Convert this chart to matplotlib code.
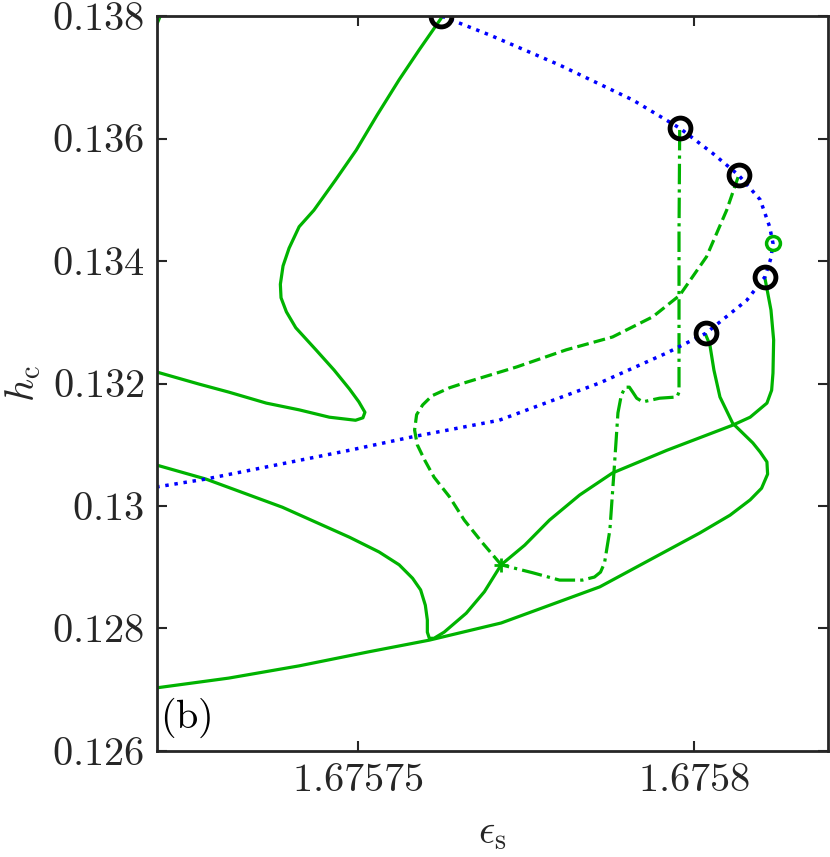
import numpy as np
import matplotlib
matplotlib.use("Agg")
import matplotlib.pyplot as plt

plt.rcParams['mathtext.fontset'] = 'cm'
plt.rcParams['font.family'] = 'serif'
plt.rcParams['font.serif'] = ['cmr10', 'DejaVu Serif']

GREEN = (0, 0.7, 0)
AXC = '#262626'

# main branch (blue dotted)
blue_x = [1.6757199, 1.6757273, 1.6757387, 1.6757487, 1.6757581, 1.6757710, 1.6757860,
          1.6757960, 1.6758018, 1.6758079, 1.6758106, 1.6758115, 1.6758118, 1.6758113,
          1.6758099, 1.6758067, 1.6758028, 1.6757979, 1.6757909, 1.6757800, 1.6757696,
          1.6757624, 1.6757606]
blue_y = [0.13031, 0.13044, 0.13069, 0.13091, 0.13113, 0.13140, 0.13201,
          0.13250, 0.13282, 0.13336, 0.13374, 0.13405, 0.13429, 0.13456,
          0.13500, 0.13540, 0.13576, 0.13617, 0.13663, 0.13720, 0.13769,
          0.13800, 0.13808]

# special points
black_x = [1.6757624, 1.6757979, 1.6758067, 1.6758106, 1.6758018]
black_y = [0.13800, 0.13617, 0.13540, 0.13374, 0.13282]
gcirc_x = [1.6758118]
gcirc_y = [0.13429]
plus_x = [1.6757713]
plus_y = [0.12904]

# solid green branches
a_x = [1.6757624, 1.6757591, 1.6757561, 1.6757528, 1.6757497, 1.6757466, 1.6757434,
       1.6757412, 1.6757397, 1.6757388, 1.6757384, 1.6757385, 1.6757393, 1.6757407,
       1.6757437, 1.6757464, 1.6757487, 1.6757501, 1.6757510, 1.6757507, 1.6757496,
       1.6757457, 1.6757412, 1.6757363, 1.6757307, 1.6757263, 1.6757199]
a_y = [0.13797, 0.13745, 0.13696, 0.13638, 0.13581, 0.13532, 0.13483,
       0.13456, 0.13421, 0.13392, 0.13362, 0.13340, 0.13317, 0.13291,
       0.13255, 0.13222, 0.13191, 0.13170, 0.13153, 0.13144, 0.13140,
       0.13145, 0.13157, 0.13168, 0.13186, 0.13199, 0.13219]

b_x = [1.6757199, 1.6757273, 1.6757387, 1.6757487, 1.6757531, 1.6757561, 1.6757581,
       1.6757593, 1.6757600, 1.6757603, 1.6757603, 1.6757606, 1.6757613, 1.6757628,
       1.6757661, 1.6757688, 1.6757713, 1.6757748, 1.6757785, 1.6757830, 1.6757879,
       1.6757960, 1.6758058, 1.6758084, 1.6758109, 1.6758116, 1.6758118, 1.6758119,
       1.6758115, 1.6758106]
b_y = [0.13067, 0.13044, 0.12998, 0.12949, 0.12925, 0.12904, 0.12882,
       0.12863, 0.12838, 0.12814, 0.12794, 0.12784, 0.12784, 0.12794,
       0.12825, 0.12860, 0.12904, 0.12936, 0.12977, 0.13018, 0.13054,
       0.13091, 0.13132, 0.13145, 0.13168, 0.13189, 0.13217, 0.13271,
       0.13320, 0.13372]

c_x = [1.6757199, 1.6757307, 1.6757412, 1.6757516, 1.6757606, 1.6757713, 1.6757860,
       1.6758009, 1.6758054, 1.6758084, 1.6758101, 1.6758110, 1.6758109, 1.6758099,
       1.6758088, 1.6758058, 1.6758039, 1.6758030, 1.6758024, 1.6758018]
c_y = [0.12703, 0.12719, 0.12739, 0.12762, 0.12781, 0.12809, 0.12868,
       0.12956, 0.12985, 0.13010, 0.13029, 0.13052, 0.13072, 0.13088,
       0.13103, 0.13135, 0.13178, 0.13222, 0.13263, 0.13279]

corner_x = [1.6757199, 1.6757208]
corner_y = [0.13784, 0.13808]

# dash-dot branch
d_x = [1.6757979, 1.6757978, 1.6757978, 1.6757978, 1.6757975, 1.6757949, 1.6757924,
       1.6757915, 1.6757909, 1.6757904, 1.6757898, 1.6757892, 1.6757887, 1.6757882,
       1.6757875, 1.6757867, 1.6757861, 1.6757852, 1.6757834, 1.6757800, 1.6757760,
       1.6757713]
d_y = [0.13614, 0.13446, 0.13287, 0.13186, 0.13178, 0.13176, 0.13170,
       0.13176, 0.13186, 0.13194, 0.13194, 0.13181, 0.13152, 0.13070,
       0.12961, 0.12907, 0.12892, 0.12884, 0.12879, 0.12879, 0.12891,
       0.12904]

# dashed branch
e_x = [1.6757713, 1.6757685, 1.6757658, 1.6757636, 1.6757613, 1.6757599, 1.6757588,
       1.6757584, 1.6757587, 1.6757596, 1.6757610, 1.6757636, 1.6757661, 1.6757736,
       1.6757810, 1.6757879, 1.6757939, 1.6757979, 1.6758019, 1.6758049, 1.6758066]
e_y = [0.12904, 0.12940, 0.12977, 0.13015, 0.13047, 0.13075, 0.13100,
       0.13124, 0.13149, 0.13165, 0.13180, 0.13193, 0.13202, 0.13227,
       0.13255, 0.13276, 0.13309, 0.13344, 0.13407, 0.13483, 0.13537]

xticks = [1.67575, 1.6758]
xtick_labels = ['$1.67575$', '$1.6758$']
yticks = [0.126, 0.128, 0.13, 0.132, 0.134, 0.136, 0.138]
ytick_labels = ['$0.126$', '$0.128$', '$0.13$', '$0.132$', '$0.134$', '$0.136$', '$0.138$']

fig = plt.figure(figsize=(8.3, 8.57), dpi=100)
ax = fig.add_axes([0.189, 0.1237, 0.8086, 0.8576])

lw = 2.3
ax.plot(a_x, a_y, '-', color=GREEN, lw=lw)
ax.plot(b_x, b_y, '-', color=GREEN, lw=lw)
ax.plot(c_x, c_y, '-', color=GREEN, lw=lw)
ax.plot(corner_x, corner_y, '-', color=GREEN, lw=lw)
ax.plot(d_x, d_y, '-.', color=GREEN, lw=lw)
ax.plot(e_x, e_y, '--', color=GREEN, lw=lw)
ax.plot(blue_x, blue_y, ':', color='blue', lw=2.5)
ax.plot(plus_x, plus_y, '+', color=GREEN, ms=10, mew=2)
ax.plot(black_x, black_y, 'o', mfc='none', mec='k', ms=15, mew=3.5)
ax.plot(gcirc_x, gcirc_y, 'o', mfc='none', mec=GREEN, ms=10, mew=2.5)

ax.set_xlim(1.67572, 1.67582)
ax.set_ylim(0.126, 0.138)
ax.set_xticks(xticks)
ax.set_xticklabels(xtick_labels)
ax.set_yticks(yticks)
ax.set_yticklabels(ytick_labels)
ax.tick_params(direction='in', top=True, right=True, length=7, width=1.5,
               labelsize=29, colors=AXC, pad=9)
for s in ax.spines.values():
    s.set_linewidth(2)
    s.set_color(AXC)

ax.set_xlabel(r'$\epsilon_{\rm s}$', fontsize=29, color=AXC, labelpad=12)
ax.set_ylabel(r'$h_{\rm c}$', fontsize=29, color=AXC, labelpad=6)
ax.text(0.004, 0.015, r'$\mathrm{(b)}$', transform=ax.transAxes, fontsize=29,
        color='k', ha='left', va='bottom')

fig.savefig('out.png', dpi=100)
